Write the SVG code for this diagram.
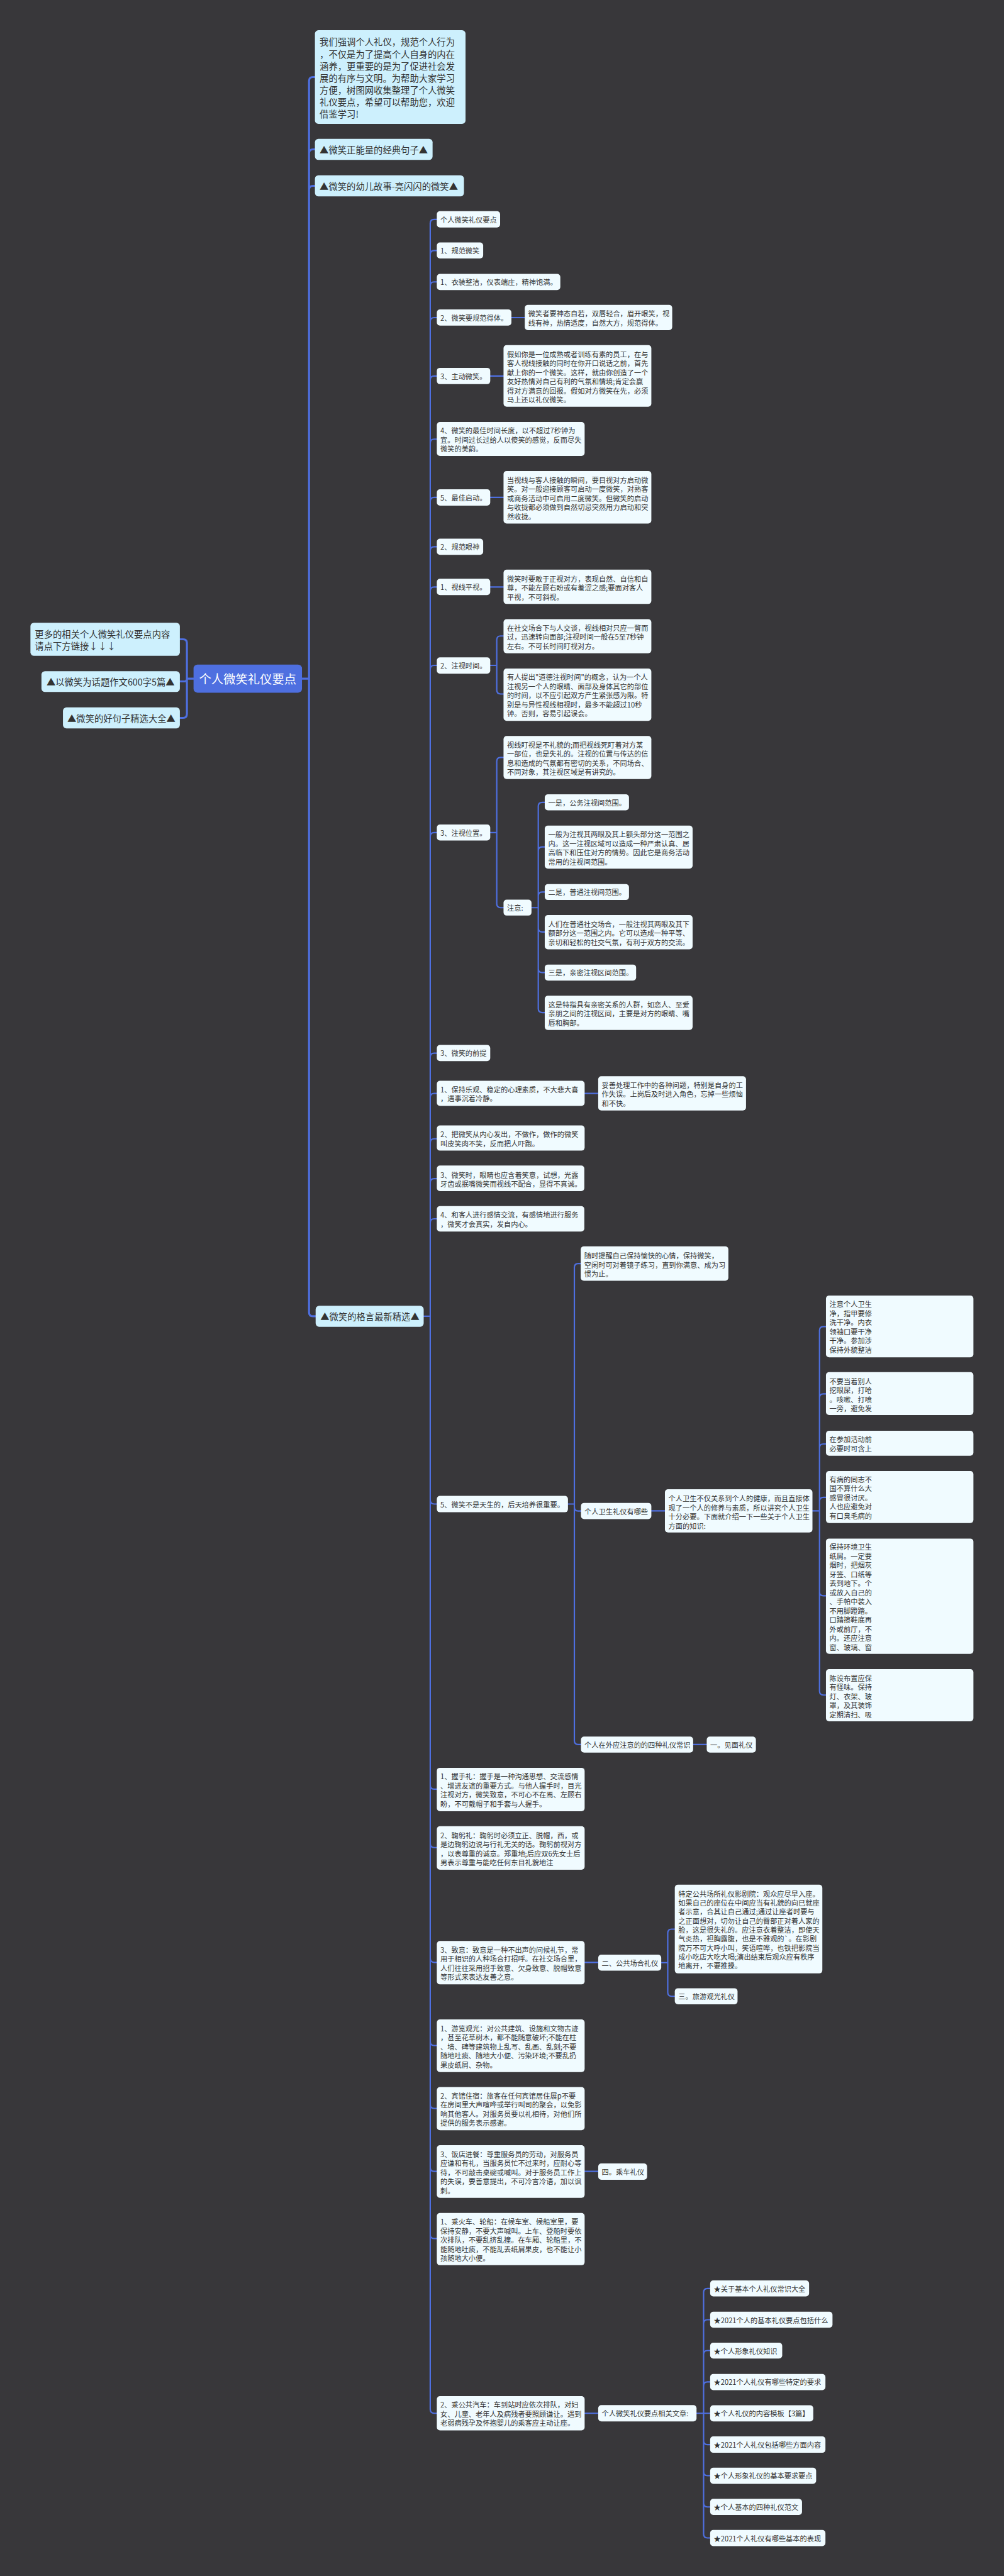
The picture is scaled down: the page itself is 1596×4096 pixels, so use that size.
<svg xmlns="http://www.w3.org/2000/svg" width="1596" height="4096" viewBox="0 0 1596 4096">
<style>
.bg{fill:#38373a}
.r{fill:#4e6fe0}
.h{fill:#cdf0fd}
.n{fill:#f0fbff}
text{font-family:"Noto Sans CJK SC","Microsoft YaHei",sans-serif;dominant-baseline:central;fill:#333}
.t{font-size:18px}
.tl{font-size:23px}
.tr{font-size:31px;fill:#fff}
.c path{fill:none;stroke:#4e6fe0;stroke-width:3.5;stroke-linecap:round}
.c .k{stroke-width:5}
</style>
<rect class="bg" x="0" y="0" width="1596" height="4096"/>
<g transform="scale(0.62344)">
<g class="c" id="connectors">
<path class="k" d="M493.5 1731 H476.6 M476.6 1640.5 V1821 M476.6 1640.5 Q476.6 1630.5 466.6 1630.5 H458.6 M476.6 1731 Q476.6 1738 469.6 1738 H458.6 M476.6 1821 Q476.6 1831 466.6 1831 H458.6"/>
<path class="k" d="M770 1731 H788 M788 206.5 V3347 M788 206.5 Q788 196.5 798 196.5 H803 M788 391 Q788 381 798 381 H803 M788 484 Q788 474 798 474 H803 M788 3347 Q788 3357 798 3357 H804.8"/>
<path d="M1080.3 3357 H1097 M1097 569.5 V6145
M1097 569.5 Q1097 559.5 1107 559.5 H1113.8
M1097 649 Q1097 639 1107 639 H1113.8
M1097 729 Q1097 719 1107 719 H1113.8
M1097 820 Q1097 810 1107 810 H1113.8
M1097 969 Q1097 959 1107 959 H1113.8
M1097 1130 Q1097 1120 1107 1120 H1113.8
M1097 1278.7 Q1097 1268.7 1107 1268.7 H1113.8
M1097 1404.5 Q1097 1394.5 1107 1394.5 H1113.8
M1097 1507 Q1097 1497 1107 1497 H1113.8
M1097 1707 Q1097 1697 1107 1697 H1113.8
M1097 2133.5 Q1097 2123.5 1107 2123.5 H1113.8
M1097 2696 Q1097 2686 1107 2686 H1113.8
M1097 2798.7 Q1097 2788.7 1107 2788.7 H1113.8
M1097 2914.4 Q1097 2904.4 1107 2904.4 H1113.8
M1097 3016 Q1097 3006 1107 3006 H1113.8
M1097 3118.6 Q1097 3108.6 1107 3108.6 H1113.8
M1097 3826 Q1097 3836 1107 3836 H1113.8
M1097 4553.2 Q1097 4563.2 1107 4563.2 H1113.8
M1097 4702.2 Q1097 4712.2 1107 4712.2 H1113.8
M1097 4995 Q1097 5005 1107 5005 H1113.8
M1097 5207 Q1097 5217 1107 5217 H1113.8
M1097 5367.4 Q1097 5377.4 1107 5377.4 H1113.8
M1097 5528 Q1097 5538 1107 5538 H1113.8
M1097 5699.3 Q1097 5709.3 1107 5709.3 H1113.8
M1097 6145 Q1097 6155 1107 6155 H1113.8"/>
<path d="M1304 810 H1338 M1250 959 H1283.9 M1250 1268.7 H1283.9 M1250 1497 H1283.9"/>
<path d="M1250 1697 H1266.6 M1266.6 1632 V1760 M1266.6 1632 Q1266.6 1622 1276.6 1622 H1283.9 M1266.6 1760 Q1266.6 1770 1276.6 1770 H1283.9"/>
<path d="M1250 2123.5 H1266.6 M1266.6 1941.8 V2305 M1266.6 1941.8 Q1266.6 1931.8 1276.6 1931.8 H1283.9 M1266.6 2305 Q1266.6 2315 1276.6 2315 H1283.9"/>
<path d="M1355.2 2315 H1372.5 M1372.5 2056.4 V2572.6
M1372.5 2056.4 Q1372.5 2046.4 1382.5 2046.4 H1389
M1372.5 2170 Q1372.5 2160 1382.5 2160 H1389
M1372.5 2285 Q1372.5 2275 1382.5 2275 H1389
M1372.5 2367 Q1372.5 2377 1382.5 2377 H1389
M1372.5 2470.5 Q1372.5 2480.5 1382.5 2480.5 H1389
M1372.5 2572.6 Q1372.5 2582.6 1382.5 2582.6 H1389"/>
<path d="M1490.7 2788.7 H1525.3"/>
<path d="M1448.2 3836 H1464.5 M1464.5 3232.6 V4439.4 M1464.5 3232.6 Q1464.5 3222.6 1474.5 3222.6 H1480.7 M1464.5 3843.8 Q1464.5 3853.8 1474.5 3853.8 H1481.3 M1464.5 4439.4 Q1464.5 4449.4 1474.5 4449.4 H1481.3"/>
<path d="M1660.8 3853.5 H1695.4 M1767.4 4449.4 H1802"/>
<path d="M2071.6 3853.5 H2089.6 M2089.6 3393.3 V4313.2
M2089.6 3393.3 Q2089.6 3383.3 2099.6 3383.3 H2106
M2089.6 3565 Q2089.6 3555 2099.6 3555 H2106
M2089.6 3692.8 Q2089.6 3682.8 2099.6 3682.8 H2106
M2089.6 3829 Q2089.6 3819 2099.6 3819 H2106
M2089.6 4060 Q2089.6 4070 2099.6 4070 H2106
M2089.6 4313.2 Q2089.6 4323.2 2099.6 4323.2 H2106"/>
<path d="M1490.7 5005 H1525.3 M1686 5005.7 H1702.6 M1702.6 4930.3 V5081.5 M1702.6 4930.3 Q1702.6 4920.3 1712.6 4920.3 H1720.6 M1702.6 5081.5 Q1702.6 5091.5 1712.6 5091.5 H1720.6"/>
<path d="M1490.7 5538 H1525.3 M1490.7 6155 H1525.3"/>
<path d="M1776 6155 H1794 M1794 5846.7 V6463
M1794 5846.7 Q1794 5836.7 1804 5836.7 H1810.7
M1794 5926.4 Q1794 5916.4 1804 5916.4 H1810.7
M1794 6005 Q1794 5995 1804 5995 H1810.7
M1794 6085 Q1794 6075 1804 6075 H1810.7
M1794 6155 H1810.7
M1794 6225 Q1794 6235 1804 6235 H1810.7
M1794 6304 Q1794 6314 1804 6314 H1810.7
M1794 6384 Q1794 6394 1804 6394 H1810.7
M1794 6463 Q1794 6473 1804 6473 H1810.7"/>
</g>

<g id="root"><rect class="r" x="493.5" y="1695" width="276.5" height="71.7" rx="10"/><text class="tr" x="631.7" y="1731" text-anchor="middle">个人微笑礼仪要点</text></g>

<g id="left1"><rect class="h" x="77.6" y="1588.3" width="381" height="84.4" rx="9"/><text class="tl"><tspan x="88.8" y="1615">更多的相关个人微笑礼仪要点内容</tspan><tspan x="88.8" y="1645">请点下方链接↓↓↓</tspan></text></g>
<g id="left2"><rect class="h" x="105.7" y="1711.7" width="352.9" height="53.3" rx="9"/><text class="tl" x="282" y="1738" text-anchor="middle">▲以微笑为话题作文600字5篇▲</text></g>
<g id="left3"><rect class="h" x="160.5" y="1804.3" width="298.1" height="53.4" rx="9"/><text class="tl" x="309.5" y="1831" text-anchor="middle">▲微笑的好句子精选大全▲</text></g>

<g id="intro"><rect class="h" x="803" y="77" width="384" height="239" rx="9"/><text class="tl"><tspan x="815" y="105">我们强调个人礼仪，规范个人行为</tspan><tspan x="815" y="135.7">，不仅是为了提高个人自身的内在</tspan><tspan x="815" y="166.4">涵养，更重要的是为了促进社会发</tspan><tspan x="815" y="197.1">展的有序与文明。为帮助大家学习</tspan><tspan x="815" y="227.8">方便，树图网收集整理了个人微笑</tspan><tspan x="815" y="258.5">礼仪要点，希望可以帮助您，欢迎</tspan><tspan x="815" y="289.2">借鉴学习!</tspan></text></g>
<g id="h1"><rect class="h" x="803" y="354" width="300" height="54" rx="9"/><text class="tl" x="815" y="381">▲微笑正能量的经典句子▲</text></g>
<g id="h2"><rect class="h" x="803" y="447" width="380" height="54" rx="9"/><text class="tl" x="815" y="474">▲微笑的幼儿故事-亮闪闪的微笑▲</text></g>
<g id="h3"><rect class="h" x="804.8" y="3330.4" width="275.5" height="53.6" rx="9"/><text class="tl" x="816.7" y="3357">▲微笑的格言最新精选▲</text></g>

<g id="a1"><rect class="n" x="1113.8" y="538.7" width="161.4" height="41.6" rx="8"/><text class="t" x="1122.8" y="559.5">个人微笑礼仪要点</text></g>
<g id="a2"><rect class="n" x="1113.8" y="618.4" width="118.2" height="40.9" rx="8"/><text class="t" x="1122.8" y="639">1、规范微笑</text></g>
<g id="a3"><rect class="n" x="1113.8" y="698.6" width="314.9" height="41.2" rx="8"/><text class="t" x="1122.8" y="719">1、衣装整洁，仪表端庄，精神饱满。</text></g>
<g id="a4"><rect class="n" x="1113.8" y="789.2" width="190.2" height="41.2" rx="8"/><text class="t" x="1122.8" y="810">2、微笑要规范得体。</text></g>
<g id="a4c"><rect class="n" x="1338" y="777.5" width="376" height="64.5" rx="8"/><text class="t"><tspan x="1347" y="799.5">微笑者要神态自若，双唇轻合，眉开眼笑，视</tspan><tspan x="1347" y="822.7">线有神，热情适度，自然大方，规范得体。</tspan></text></g>
<g id="a5"><rect class="n" x="1113.8" y="938.2" width="136.2" height="41.6" rx="8"/><text class="t" x="1122.8" y="959">3、主动微笑。</text></g>
<g id="a5c"><rect class="n" x="1283.9" y="880.2" width="376.9" height="157.2" rx="8"/><text class="t"><tspan x="1292.9" y="902.4">假如你是一位成熟或者训练有素的员工，在与</tspan><tspan x="1292.9" y="925.7">客人视线接触的同时在你开口说话之前，首先</tspan><tspan x="1292.9" y="949">献上你的一个微笑。这样，就由你创造了一个</tspan><tspan x="1292.9" y="972.3">友好热情对自己有利的气氛和情境;肯定会赢</tspan><tspan x="1292.9" y="995.6">得对方满意的回报。假如对方微笑在先，必须</tspan><tspan x="1292.9" y="1018.9">马上还以礼仪微笑。</tspan></text></g>
<g id="a6"><rect class="n" x="1113.8" y="1076.3" width="376.9" height="86.7" rx="8"/><text class="t"><tspan x="1122.8" y="1097.7">4、微笑的最佳时间长度，以不超过7秒钟为</tspan><tspan x="1122.8" y="1121">宜。时间过长过给人以傻笑的感觉，反而尽失</tspan><tspan x="1122.8" y="1144.3">微笑的美韵。</tspan></text></g>
<g id="a7"><rect class="n" x="1113.8" y="1247.9" width="136.2" height="41.6" rx="8"/><text class="t" x="1122.8" y="1268.7">5、最佳启动。</text></g>
<g id="a7c"><rect class="n" x="1283.9" y="1201.2" width="376.9" height="134.2" rx="8"/><text class="t"><tspan x="1292.9" y="1223.4">当视线与客人接触的瞬间，要目视对方启动微</tspan><tspan x="1292.9" y="1246.7">笑。对一般迎接顾客可启动一度微笑，对熟客</tspan><tspan x="1292.9" y="1270">或商务活动中可启用二度微笑。但微笑的启动</tspan><tspan x="1292.9" y="1293.3">与收拢都必须做到自然切忌突然用力启动和突</tspan><tspan x="1292.9" y="1316.6">然收拢。</tspan></text></g>
<g id="a8"><rect class="n" x="1113.8" y="1373.9" width="118.2" height="41.3" rx="8"/><text class="t" x="1122.8" y="1394.5">2、规范眼神</text></g>
<g id="a9"><rect class="n" x="1113.8" y="1476.2" width="136.2" height="41.7" rx="8"/><text class="t" x="1122.8" y="1497">1、视线平视。</text></g>
<g id="a9c"><rect class="n" x="1283.9" y="1452.9" width="376.9" height="87.5" rx="8"/><text class="t"><tspan x="1292.9" y="1475">微笑时要敢于正视对方，表现自然、自信和自</tspan><tspan x="1292.9" y="1498.3">尊，不能左顾右盼或有羞涩之感;要面对客人</tspan><tspan x="1292.9" y="1521.6">平视，不可斜视。</tspan></text></g>
<g id="a10"><rect class="n" x="1113.8" y="1676.6" width="136.2" height="41.6" rx="8"/><text class="t" x="1122.8" y="1697">2、注视时间。</text></g>
<g id="a10a"><rect class="n" x="1283.9" y="1579.3" width="376.9" height="86.8" rx="8"/><text class="t"><tspan x="1292.9" y="1600.7">在社交场合下与人交谈，视线相对只应一瞥而</tspan><tspan x="1292.9" y="1624">过，迅速转向面部;注视时间一般在5至7秒钟</tspan><tspan x="1292.9" y="1647.3">左右。不可长时间盯视对方。</tspan></text></g>
<g id="a10b"><rect class="n" x="1283.9" y="1705" width="376.9" height="133.4" rx="8"/><text class="t"><tspan x="1292.9" y="1726.4">有人提出"道德注视时间"的概念，认为一个人</tspan><tspan x="1292.9" y="1749.7">注视另一个人的眼睛、面部及身体其它的部位</tspan><tspan x="1292.9" y="1773">的时间，以不应引起双方产生紧张感为限。特</tspan><tspan x="1292.9" y="1796.3">别是与异性视线相视时，最多不能超过10秒</tspan><tspan x="1292.9" y="1819.6">钟。否则，容易引起误会。</tspan></text></g>
<g id="a11"><rect class="n" x="1113.8" y="2103" width="136.2" height="40.8" rx="8"/><text class="t" x="1122.8" y="2123.5">3、注视位置。</text></g>
<g id="a11a"><rect class="n" x="1283.9" y="1877" width="376.9" height="110" rx="8"/><text class="t"><tspan x="1292.9" y="1898.7">视线盯视是不礼貌的;而把视线死盯着对方某</tspan><tspan x="1292.9" y="1922">一部位，也是失礼的。注视的位置与传达的信</tspan><tspan x="1292.9" y="1945.3">息和造成的气氛都有密切的关系，不同场合、</tspan><tspan x="1292.9" y="1968.6">不同对象，其注视区域是有讲究的。</tspan></text></g>
<g id="a11b"><rect class="n" x="1283.9" y="2294.4" width="71.3" height="40.8" rx="8"/><text class="t" x="1292.9" y="2315">注意:</text></g>
<g id="b1"><rect class="n" x="1389" y="2026" width="214.8" height="40.8" rx="8"/><text class="t" x="1398" y="2046.4">一是，公务注视间范围。</text></g>
<g id="b2"><rect class="n" x="1389" y="2105.7" width="377" height="109.7" rx="8"/><text class="t"><tspan x="1398" y="2127">一般为注视其两眼及其上额头部分这一范围之</tspan><tspan x="1398" y="2150.3">内。这一注视区域可以造成一种严肃认真、居</tspan><tspan x="1398" y="2173.6">高临下和压住对方的情势。因此它是商务活动</tspan><tspan x="1398" y="2196.9">常用的注视间范围。</tspan></text></g>
<g id="b3"><rect class="n" x="1389" y="2254.7" width="214.8" height="40.8" rx="8"/><text class="t" x="1398" y="2275">二是，普通注视间范围。</text></g>
<g id="b4"><rect class="n" x="1389" y="2334" width="377" height="87.2" rx="8"/><text class="t"><tspan x="1398" y="2355.8">人们在普通社交场合，一般注视其两眼及其下</tspan><tspan x="1398" y="2379.1">额部分这一范围之内。它可以造成一种平等、</tspan><tspan x="1398" y="2402.4">亲切和轻松的社交气氛，有利于双方的交流。</tspan></text></g>
<g id="b5"><rect class="n" x="1389" y="2460" width="233" height="41" rx="8"/><text class="t" x="1398" y="2480.5">三是，亲密注视区间范围。</text></g>
<g id="b6"><rect class="n" x="1389" y="2539.5" width="377" height="87.5" rx="8"/><text class="t"><tspan x="1398" y="2561.2">这是特指具有亲密关系的人群，如恋人、至爱</tspan><tspan x="1398" y="2584.5">亲朋之间的注视区间，主要是对方的眼睛、嘴</tspan><tspan x="1398" y="2607.8">唇和胸部。</tspan></text></g>
<g id="a12"><rect class="n" x="1113.8" y="2665" width="136.2" height="41.4" rx="8"/><text class="t" x="1122.8" y="2685.7">3、微笑的前提</text></g>
<g id="a13"><rect class="n" x="1113.8" y="2756.5" width="376.9" height="64.2" rx="8"/><text class="t"><tspan x="1122.8" y="2778">1、保持乐观、稳定的心理素质，不大悲大喜</tspan><tspan x="1122.8" y="2801.3">，遇事沉着冷静。</tspan></text></g>
<g id="a13c"><rect class="n" x="1525.3" y="2744.9" width="376.9" height="87.5" rx="8"/><text class="t"><tspan x="1534.3" y="2766.3">妥善处理工作中的各种问题，特别是自身的工</tspan><tspan x="1534.3" y="2789.6">作失误。上岗后及时进入角色，忘掉一些烦恼</tspan><tspan x="1534.3" y="2812.9">和不快。</tspan></text></g>
<g id="a14"><rect class="n" x="1113.8" y="2870.5" width="376.9" height="64.2" rx="8"/><text class="t"><tspan x="1122.8" y="2892">2、把微笑从内心发出，不做作，做作的微笑</tspan><tspan x="1122.8" y="2915.3">叫皮笑肉不笑，反而把人吓跑。</tspan></text></g>
<g id="a15"><rect class="n" x="1113.8" y="2972.8" width="376.1" height="65" rx="8"/><text class="t"><tspan x="1122.8" y="2996.2">3、微笑时，眼睛也应含着笑意，试想，光露</tspan><tspan x="1122.8" y="3019.5">牙齿或抿嘴微笑而视线不配合，显得不真诚。</tspan></text></g>
<g id="a16"><rect class="n" x="1113.8" y="3076" width="376.1" height="65" rx="8"/><text class="t"><tspan x="1122.8" y="3098">4、和客人进行感情交流，有感情地进行服务</tspan><tspan x="1122.8" y="3121.3">，微笑才会真实，发自内心。</tspan></text></g>
<g id="a17"><rect class="n" x="1480.7" y="3178.6" width="376.5" height="88" rx="8"/><text class="t"><tspan x="1489.7" y="3201.9">随时提醒自己保持愉快的心情，保持微笑，</tspan><tspan x="1489.7" y="3225.2">空闲时可对着镜子练习，直到你满意、成为习</tspan><tspan x="1489.7" y="3248.5">惯为止。</tspan></text></g>
<g id="a18"><rect class="n" x="1113.8" y="3815" width="334.4" height="42" rx="8"/><text class="t" x="1122.8" y="3836">5、微笑不是天生的，后天培养很重要。</text></g>
<g id="p1"><rect class="n" x="1481.3" y="3833" width="179.5" height="41.6" rx="8"/><text class="t" x="1490.3" y="3853.8">个人卫生礼仪有哪些</text></g>
<g id="p1c"><rect class="n" x="1695.4" y="3798.4" width="376.2" height="110.1" rx="8"/><text class="t"><tspan x="1704.4" y="3821">个人卫生不仅关系到个人的健康，而且直接体</tspan><tspan x="1704.4" y="3844.3">现了一个人的修养与素质，所以讲究个人卫生</tspan><tspan x="1704.4" y="3867.6">十分必要。下面就介绍一下一些关于个人卫生</tspan><tspan x="1704.4" y="3890.9">方面的知识:</tspan></text></g>
<g id="c1"><rect class="n" x="2106" y="3304.3" width="376" height="157.5" rx="8"/><text class="t"><tspan x="2115" y="3325.7">注意个人卫生</tspan><tspan x="2115" y="3349">净，指甲要修</tspan><tspan x="2115" y="3372.3">洗干净。内衣</tspan><tspan x="2115" y="3395.6">领袖口要干净</tspan><tspan x="2115" y="3418.9">干净。参加涉</tspan><tspan x="2115" y="3442.2">保持外貌整洁</tspan></text></g>
<g id="c2"><rect class="n" x="2106" y="3499.6" width="376" height="109.4" rx="8"/><text class="t"><tspan x="2115" y="3522">不要当着别人</tspan><tspan x="2115" y="3545.3">挖眼屎，打哈</tspan><tspan x="2115" y="3568.6">。咳嗽、打喷</tspan><tspan x="2115" y="3591.9">一旁，避免发</tspan></text></g>
<g id="c3"><rect class="n" x="2106" y="3649" width="376" height="63.8" rx="8"/><text class="t"><tspan x="2115" y="3670.4">在参加活动前</tspan><tspan x="2115" y="3693.7">必要时可含上</tspan></text></g>
<g id="c4"><rect class="n" x="2106" y="3751.7" width="376" height="132.6" rx="8"/><text class="t"><tspan x="2115" y="3772.3">有病的同志不</tspan><tspan x="2115" y="3795.6">国不算什么大</tspan><tspan x="2115" y="3818.9">感冒很讨厌。</tspan><tspan x="2115" y="3842.2">人也应避免对</tspan><tspan x="2115" y="3865.5">有口臭毛病的</tspan></text></g>
<g id="c5"><rect class="n" x="2106" y="3924" width="376" height="294" rx="8"/><text class="t"><tspan x="2115" y="3944.6">保持环境卫生</tspan><tspan x="2115" y="3967.9">纸屑。一定要</tspan><tspan x="2115" y="3991.2">烟时，把烟灰</tspan><tspan x="2115" y="4014.5">牙签、口纸等</tspan><tspan x="2115" y="4037.8">丢到地下。个</tspan><tspan x="2115" y="4061.1">或放入自己的</tspan><tspan x="2115" y="4084.4">、手帕中装入</tspan><tspan x="2115" y="4107.7">不用脚蹬踏。</tspan><tspan x="2115" y="4131">口踏擦鞋底再</tspan><tspan x="2115" y="4154.3">外或前厅，不</tspan><tspan x="2115" y="4177.6">内。还应注意</tspan><tspan x="2115" y="4200.9">窗、玻璃、窗</tspan></text></g>
<g id="c6"><rect class="n" x="2106" y="4257" width="376" height="133" rx="8"/><text class="t"><tspan x="2115" y="4279.2">陈设布置应保</tspan><tspan x="2115" y="4302.5">有怪味。保持</tspan><tspan x="2115" y="4325.8">灯、衣架、玻</tspan><tspan x="2115" y="4349.1">罩，及其装饰</tspan><tspan x="2115" y="4372.4">定期清扫、吸</tspan></text></g>
<g id="p2"><rect class="n" x="1481.3" y="4429" width="286.1" height="40.8" rx="8"/><text class="t" x="1490.3" y="4449.4">个人在外应注意的的四种礼仪常识</text></g>
<g id="p2c"><rect class="n" x="1802" y="4429" width="125.4" height="40.8" rx="8"/><text class="t" x="1811" y="4449.4">一。见面礼仪</text></g>
<g id="a19"><rect class="n" x="1113.8" y="4508.7" width="376.9" height="110.9" rx="8"/><text class="t"><tspan x="1122.8" y="4530">1、握手礼：握手是一种沟通思想、交流感情</tspan><tspan x="1122.8" y="4553.3">、增进友谊的重要方式。与他人握手时，目光</tspan><tspan x="1122.8" y="4576.6">注视对方，微笑致意，不可心不在焉、左顾右</tspan><tspan x="1122.8" y="4599.9">盼，不可戴帽子和手套与人握手。</tspan></text></g>
<g id="a20"><rect class="n" x="1113.8" y="4657.7" width="376.9" height="110.9" rx="8"/><text class="t"><tspan x="1122.8" y="4680">2、鞠躬礼：鞠躬时必须立正、脱帽，西，或</tspan><tspan x="1122.8" y="4703.3">是边鞠躬边说与行礼无关的话。鞠躬前视对方</tspan><tspan x="1122.8" y="4726.6">，以表尊重的诚意。郑重地;后应双6先女士后</tspan><tspan x="1122.8" y="4749.9">男表示尊重与能吃任何东目礼貌地注</tspan></text></g>
<g id="a21"><rect class="n" x="1113.8" y="4950.3" width="376.9" height="110.9" rx="8"/><text class="t"><tspan x="1122.8" y="4971.7">3、致意：致意是一种不出声的问候礼节，常</tspan><tspan x="1122.8" y="4995">用于相识的人种场合打招呼。在社交场合里，</tspan><tspan x="1122.8" y="5018.3">人们往往采用招手致意、欠身致意、脱帽致意</tspan><tspan x="1122.8" y="5041.6">等形式来表达友善之意。</tspan></text></g>
<g id="q1"><rect class="n" x="1525.3" y="4985.3" width="160.7" height="40.8" rx="8"/><text class="t" x="1534.3" y="5005.7">二、公共场合礼仪</text></g>
<g id="d1"><rect class="n" x="1720.6" y="4806.7" width="376.2" height="226.4" rx="8"/><text class="t"><tspan x="1729.6" y="4828.9">特定公共场所礼仪影剧院：观众应尽早入座。</tspan><tspan x="1729.6" y="4851.9">如果自己的座位在中间应当有礼貌的向已就座</tspan><tspan x="1729.6" y="4874.9">者示意，合其让自己通过;通过让座者时要与</tspan><tspan x="1729.6" y="4897.9">之正面想对，切勿让自己的臀部正对着人家的</tspan><tspan x="1729.6" y="4920.9">脸，这是很失礼的。应注意衣着整洁，即使天</tspan><tspan x="1729.6" y="4943.9">气炎热，袒胸露腹，也是不雅观的`。在影剧</tspan><tspan x="1729.6" y="4966.9">院万不可大呼小叫，笑语喧哗，也铁把影院当</tspan><tspan x="1729.6" y="4989.9">成小吃店大吃大喝;演出结束后观众应有秩序</tspan><tspan x="1729.6" y="5012.9">地离开，不要推搡。</tspan></text></g>
<g id="d2"><rect class="n" x="1720.6" y="5070.9" width="160" height="41.1" rx="8"/><text class="t" x="1729.6" y="5091.5">三。旅游观光礼仪</text></g>
<g id="a22"><rect class="n" x="1113.8" y="5150.6" width="376.9" height="134.2" rx="8"/><text class="t"><tspan x="1122.8" y="5172.4">1、游览观光：对公共建筑、设施和文物古迹</tspan><tspan x="1122.8" y="5195.6">，甚至花草树木，都不能随意破坏;不能在柱</tspan><tspan x="1122.8" y="5218.8">、墙、碑等建筑物上乱写、乱画、乱刻;不要</tspan><tspan x="1122.8" y="5242">随地吐痰、随地大小便、污染环境;不要乱扔</tspan><tspan x="1122.8" y="5265.2">果皮纸屑、杂物。</tspan></text></g>
<g id="a23"><rect class="n" x="1113.8" y="5323" width="376.9" height="110" rx="8"/><text class="t"><tspan x="1122.8" y="5344.4">2、宾馆住宿：旅客在任何宾馆居住展p不要</tspan><tspan x="1122.8" y="5367.7">在房间里大声喧哗或举行叫司的聚会，以免影</tspan><tspan x="1122.8" y="5391">响其他客人。对服务员要以礼相待，对他们所</tspan><tspan x="1122.8" y="5414.3">提供的服务表示感谢。</tspan></text></g>
<g id="a24"><rect class="n" x="1113.8" y="5471.2" width="376.9" height="134.2" rx="8"/><text class="t"><tspan x="1122.8" y="5493.4">3、饭店进餐：尊重服务员的劳动，对服务员</tspan><tspan x="1122.8" y="5516.7">应谦和有礼，当服务员忙不过来时，应耐心等</tspan><tspan x="1122.8" y="5540">待，不可敲击桌碗或喊叫。对于服务员工作上</tspan><tspan x="1122.8" y="5563.3">的失误，要善意提出，不可冷言冷语，加以讽</tspan><tspan x="1122.8" y="5586.6">刺。</tspan></text></g>
<g id="q2"><rect class="n" x="1525.3" y="5517.9" width="124.7" height="41.6" rx="8"/><text class="t" x="1534.3" y="5538.7">四。乘车礼仪</text></g>
<g id="a25"><rect class="n" x="1113.8" y="5644" width="376.9" height="133.4" rx="8"/><text class="t"><tspan x="1122.8" y="5665.7">1、乘火车、轮船：在候车室、候船室里，要</tspan><tspan x="1122.8" y="5688.9">保持安静，不要大声喊叫。上车、登船时要依</tspan><tspan x="1122.8" y="5712.1">次排队，不要乱挤乱撞。在车厢、轮船里，不</tspan><tspan x="1122.8" y="5735.3">能随地吐痰，不能乱丢纸屑果皮，也不能让小</tspan><tspan x="1122.8" y="5758.5">孩随地大小便。</tspan></text></g>
<g id="a26"><rect class="n" x="1113.8" y="6111.3" width="376.9" height="87.3" rx="8"/><text class="t"><tspan x="1122.8" y="6132.7">2、乘公共汽车：车到站时应依次排队，对妇</tspan><tspan x="1122.8" y="6155.4">女、儿童、老年人及病残者要照顾谦让。遇到</tspan><tspan x="1122.8" y="6178.1">老弱病残孕及怀抱婴儿的乘客应主动让座。</tspan></text></g>
<g id="q3"><rect class="n" x="1525.3" y="6134.2" width="250.7" height="41.5" rx="8"/><text class="t" x="1534.3" y="6155">个人微笑礼仪要点相关文章:</text></g>
<g id="e1"><rect class="n" x="1810.7" y="5816.3" width="252.3" height="40.8" rx="8"/><text class="t" x="1819.7" y="5836.7">★关于基本个人礼仪常识大全</text></g>
<g id="e2"><rect class="n" x="1810.7" y="5896" width="312" height="40.9" rx="8"/><text class="t" x="1819.7" y="5916.4">★2021个人的基本礼仪要点包括什么</text></g>
<g id="e3"><rect class="n" x="1810.7" y="5975" width="183.8" height="40.4" rx="8"/><text class="t" x="1819.7" y="5995">★个人形象礼仪知识</text></g>
<g id="e4"><rect class="n" x="1810.7" y="6054.7" width="294" height="41.2" rx="8"/><text class="t" x="1819.7" y="6075">★2021个人礼仪有哪些特定的要求</text></g>
<g id="e5"><rect class="n" x="1810.7" y="6134.5" width="263" height="41.2" rx="8"/><text class="t" x="1819.7" y="6155">★个人礼仪的内容模板【3篇】</text></g>
<g id="e6"><rect class="n" x="1810.7" y="6214" width="294" height="41.8" rx="8"/><text class="t" x="1819.7" y="6235">★2021个人礼仪包括哪些方面内容</text></g>
<g id="e7"><rect class="n" x="1810.7" y="6293.7" width="270.3" height="41.2" rx="8"/><text class="t" x="1819.7" y="6314">★个人形象礼仪的基本要求要点</text></g>
<g id="e8"><rect class="n" x="1810.7" y="6373.1" width="234.3" height="41.2" rx="8"/><text class="t" x="1819.7" y="6394">★个人基本的四种礼仪范文</text></g>
<g id="e9"><rect class="n" x="1810.7" y="6452.6" width="294" height="41.1" rx="8"/><text class="t" x="1819.7" y="6473">★2021个人礼仪有哪些基本的表现</text></g>
</g>
</svg>
